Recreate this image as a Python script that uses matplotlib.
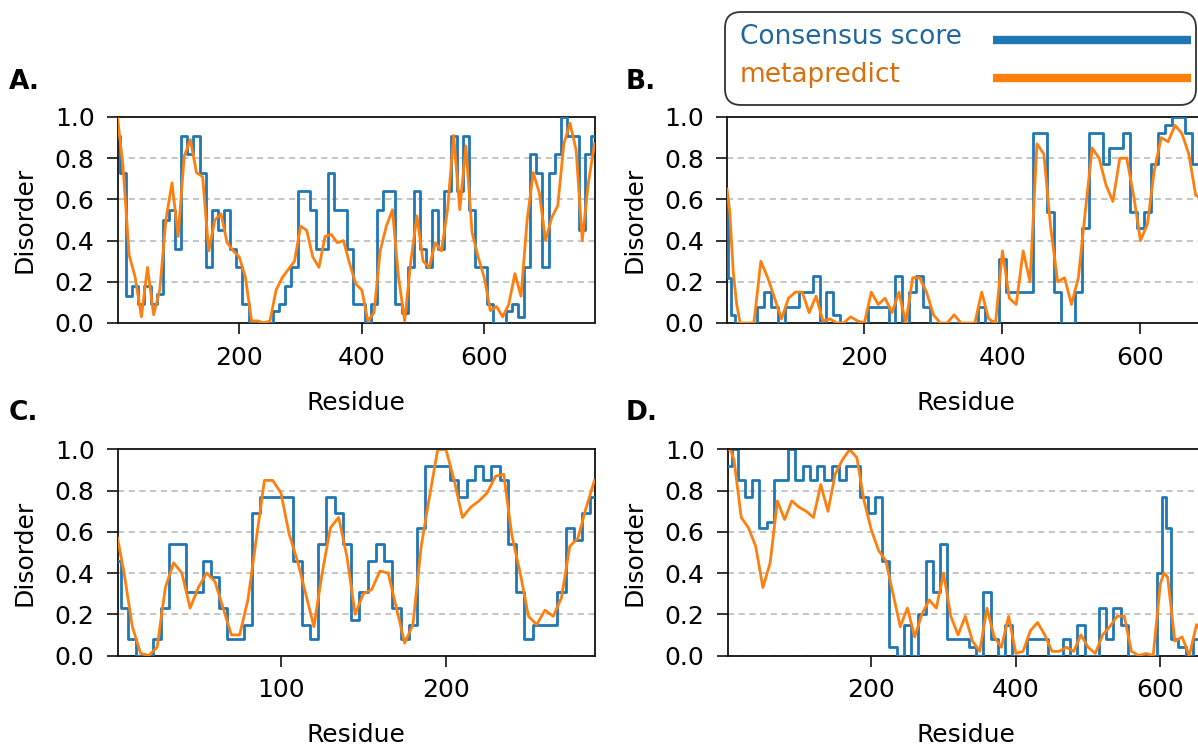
import numpy as np
import matplotlib
matplotlib.use("Agg")
import matplotlib.pyplot as plt
from matplotlib.patches import FancyBboxPatch
from matplotlib.lines import Line2D
from matplotlib.transforms import IdentityTransform

plt.rcParams['font.family'] = ['DejaVu Sans']

# ---------------- data ----------------
# Panel A
resA = [1, 10, 20, 30, 40, 50, 60, 70, 80, 90, 100, 110, 120, 130, 140, 150, 160, 170, 180, 190,
        200, 210, 220, 230, 240, 250, 260, 270, 280, 290, 300, 310, 320, 330, 340, 350, 360, 370, 380, 390,
        400, 410, 420, 430, 440, 450, 460, 470, 480, 490, 500, 510, 520, 530, 540, 550, 560, 570, 580, 590,
        600, 610, 620, 630, 640, 650, 660, 670, 680, 690, 700, 710, 720, 730, 740, 750, 760, 770, 780]
consA = [0.91, 0.73, 0.13, 0.18, 0.09, 0.18, 0.09, 0.14, 0.50, 0.55, 0.36, 0.91, 0.82, 0.91, 0.73, 0.27, 0.55, 0.45, 0.55, 0.36,
         0.27, 0.09, 0.00, 0.00, 0.00, 0.00, 0.06, 0.09, 0.18, 0.27, 0.64, 0.64, 0.55, 0.36, 0.36, 0.73, 0.55, 0.55, 0.36, 0.09,
         0.09, 0.00, 0.09, 0.55, 0.64, 0.64, 0.09, 0.05, 0.27, 0.64, 0.36, 0.27, 0.55, 0.36, 0.64, 0.91, 0.64, 0.91, 0.55, 0.27,
         0.27, 0.09, 0.00, 0.00, 0.06, 0.09, 0.03, 0.27, 0.82, 0.73, 0.27, 0.73, 0.82, 1.00, 0.91, 0.91, 0.45, 0.82, 0.91]
metaA = [1.00, 0.76, 0.33, 0.22, 0.03, 0.27, 0.04, 0.16, 0.50, 0.68, 0.42, 0.81, 0.89, 0.73, 0.71, 0.35, 0.50, 0.53, 0.39, 0.35,
         0.32, 0.22, 0.01, 0.01, 0.00, 0.01, 0.16, 0.22, 0.26, 0.30, 0.47, 0.45, 0.32, 0.27, 0.42, 0.43, 0.39, 0.40, 0.29, 0.19,
         0.16, 0.01, 0.05, 0.35, 0.47, 0.55, 0.22, 0.01, 0.30, 0.52, 0.30, 0.27, 0.39, 0.35, 0.55, 0.91, 0.55, 0.86, 0.44, 0.32,
         0.22, 0.06, 0.08, 0.03, 0.09, 0.24, 0.13, 0.50, 0.73, 0.63, 0.40, 0.51, 0.57, 0.87, 0.97, 0.84, 0.40, 0.68, 0.87]

# Panel B
resB = [1, 5, 10, 15, 20, 30, 40, 50, 60, 70, 80, 90, 100, 110, 120, 130, 140, 150, 160, 170,
        180, 190, 200, 210, 220, 230, 240, 250, 260, 270, 280, 290, 300, 310, 320, 330, 340, 350, 360, 370,
        380, 390, 400, 410, 420, 430, 440, 450, 460, 470, 480, 490, 500, 510, 520, 530, 540, 550, 560, 570,
        580, 590, 600, 610, 620, 630, 640, 650, 660, 670, 680, 690]
consB = [0.59, 0.22, 0.04, 0.00, 0.00, 0.00, 0.00, 0.08, 0.15, 0.08, 0.00, 0.08, 0.08, 0.15, 0.15, 0.23, 0.00, 0.15, 0.04, 0.00,
         0.00, 0.00, 0.00, 0.08, 0.08, 0.08, 0.00, 0.23, 0.00, 0.15, 0.23, 0.08, 0.00, 0.00, 0.00, 0.00, 0.00, 0.00, 0.00, 0.08,
         0.00, 0.00, 0.31, 0.15, 0.15, 0.15, 0.15, 0.92, 0.92, 0.54, 0.15, 0.00, 0.00, 0.15, 0.46, 0.92, 0.92, 0.77, 0.85, 0.85,
         0.92, 0.54, 0.46, 0.54, 0.77, 0.92, 0.96, 1.00, 1.00, 0.92, 0.77, 0.80]
metaB = [0.65, 0.54, 0.25, 0.09, 0.00, 0.00, 0.00, 0.30, 0.22, 0.12, 0.02, 0.12, 0.15, 0.15, 0.05, 0.13, 0.01, 0.02, 0.00, 0.00,
         0.03, 0.01, 0.00, 0.15, 0.09, 0.12, 0.05, 0.15, 0.00, 0.22, 0.22, 0.15, 0.04, 0.00, 0.00, 0.04, 0.00, 0.00, 0.00, 0.15,
         0.02, 0.00, 0.35, 0.12, 0.09, 0.35, 0.20, 0.87, 0.82, 0.46, 0.20, 0.22, 0.09, 0.22, 0.54, 0.85, 0.80, 0.67, 0.59, 0.80,
         0.80, 0.62, 0.40, 0.48, 0.74, 0.90, 0.88, 0.96, 0.92, 0.82, 0.62, 0.60]

# Panel C
resC = [1, 5, 10, 15, 20, 25, 30, 35, 40, 45, 50, 55, 60, 65, 70, 75, 80, 85, 90, 95,
        100, 105, 110, 115, 120, 125, 130, 135, 140, 145, 150, 155, 160, 165, 170, 175, 180, 185, 190, 195,
        200, 205, 210, 215, 220, 225, 230, 235, 240, 245, 250, 255, 260, 265, 270, 275, 280, 285, 290]
consC = [0.46, 0.23, 0.08, 0.00, 0.00, 0.08, 0.23, 0.54, 0.54, 0.31, 0.31, 0.46, 0.38, 0.23, 0.08, 0.08, 0.15, 0.69, 0.77, 0.77,
         0.77, 0.77, 0.46, 0.15, 0.08, 0.54, 0.77, 0.69, 0.54, 0.17, 0.31, 0.46, 0.54, 0.46, 0.23, 0.08, 0.15, 0.62, 0.92, 0.92,
         0.92, 0.85, 0.77, 0.85, 0.92, 0.85, 0.92, 0.85, 0.54, 0.31, 0.08, 0.15, 0.15, 0.15, 0.31, 0.62, 0.56, 0.69, 0.77]
metaC = [0.57, 0.40, 0.14, 0.01, 0.00, 0.04, 0.33, 0.45, 0.40, 0.23, 0.33, 0.40, 0.36, 0.23, 0.10, 0.10, 0.27, 0.56, 0.85, 0.85,
         0.79, 0.59, 0.46, 0.30, 0.14, 0.40, 0.62, 0.67, 0.48, 0.20, 0.30, 0.32, 0.41, 0.40, 0.23, 0.06, 0.15, 0.53, 0.77, 1.00,
         1.00, 0.85, 0.67, 0.72, 0.75, 0.79, 0.87, 0.88, 0.58, 0.40, 0.19, 0.15, 0.22, 0.19, 0.28, 0.53, 0.57, 0.72, 0.85]

# Panel D
resD = [1, 5, 10, 20, 30, 40, 50, 60, 70, 80, 90, 100, 110, 120, 130, 140, 150, 160, 170, 180,
        190, 200, 210, 220, 230, 240, 250, 260, 270, 280, 290, 300, 310, 320, 330, 340, 350, 360, 370, 380,
        390, 400, 410, 420, 430, 440, 450, 460, 470, 480, 490, 500, 510, 520, 530, 540, 550, 560, 570, 580,
        590, 600, 605, 610, 620, 630, 640, 650, 660]
consD = [0.92, 0.92, 1.00, 0.85, 0.77, 0.85, 0.62, 0.65, 0.85, 0.85, 1.00, 0.85, 0.92, 0.85, 0.92, 0.85, 0.92, 0.85, 0.92, 0.92,
         0.77, 0.69, 0.77, 0.46, 0.04, 0.00, 0.15, 0.00, 0.20, 0.46, 0.31, 0.54, 0.08, 0.08, 0.08, 0.04, 0.00, 0.31, 0.08, 0.00,
         0.15, 0.00, 0.00, 0.08, 0.08, 0.08, 0.00, 0.00, 0.08, 0.00, 0.15, 0.00, 0.00, 0.23, 0.08, 0.23, 0.15, 0.00, 0.00, 0.00,
         0.00, 0.40, 0.77, 0.62, 0.08, 0.04, 0.00, 0.08, 0.08]
metaD = [1.00, 1.00, 0.95, 0.67, 0.62, 0.53, 0.33, 0.45, 0.75, 0.66, 0.75, 0.72, 0.70, 0.67, 0.83, 0.70, 0.88, 0.95, 1.00, 0.96,
         0.75, 0.61, 0.51, 0.46, 0.30, 0.14, 0.23, 0.09, 0.20, 0.27, 0.23, 0.40, 0.19, 0.10, 0.19, 0.07, 0.02, 0.23, 0.09, 0.04,
         0.19, 0.01, 0.02, 0.12, 0.16, 0.10, 0.02, 0.02, 0.04, 0.02, 0.10, 0.04, 0.01, 0.10, 0.14, 0.19, 0.19, 0.02, 0.00, 0.01,
         0.00, 0.35, 0.40, 0.38, 0.07, 0.09, 0.00, 0.15, 0.10]

yticks = [0.0, 0.2, 0.4, 0.6, 0.8, 1.0]
ytick_labels = ["0.0", "0.2", "0.4", "0.6", "0.8", "1.0"]
legend_labels = ["Consensus score", "metapredict"]

# ---------------- drawing ----------------
W, H = 1198, 745
fig = plt.figure(figsize=(W / 100, H / 100), dpi=100)
BLUE = '#1f77b4'
ORANGE = '#ff7f0e'
FS = 18


def add_panel(rect_px, res, cons, meta, xmax, xticks, label, label_xy):
    l, t, w, h = rect_px
    ax = fig.add_axes([l / W, 1 - (t + h) / H, w / W, h / H])
    ax.plot(res, cons, color=BLUE, lw=2, drawstyle='steps-mid', zorder=3)
    ax.plot(res, meta, color=ORANGE, lw=2, zorder=4)
    ax.set_xlim(1, xmax)
    ax.set_ylim(0, 1)
    ax.set_yticks(yticks)
    ax.set_yticklabels(ytick_labels)
    ax.set_xticks(xticks)
    ax.set_xticklabels([str(v) for v in xticks])
    ax.yaxis.grid(True, linestyle=(0, (4, 3)), color='#b5b5b5', lw=1.1)
    ax.set_axisbelow(True)
    ax.tick_params(axis='both', direction='out', length=8, width=1.2, labelsize=FS, pad=8.5, color='#111111')
    for s in ax.spines.values():
        s.set_linewidth(1.3)
        s.set_color('#111111')
    ax.set_ylabel('Disorder', fontsize=FS, labelpad=13)
    ax.set_xlabel('Residue', fontsize=FS, labelpad=15)
    fig.text(label_xy[0] / W, 1 - label_xy[1] / H, label, fontsize=19, fontweight='bold',
             ha='left', va='center')
    return ax


axw, axh = 477, 206
add_panel((117.5, 117, axw, axh), resA, consA, metaA, 780, [200, 400, 600], 'A.', (9, 82))
add_panel((727, 117, axw, axh), resB, consB, metaB, 692, [200, 400, 600], 'B.', (626, 82))
add_panel((117.5, 449.5, axw, axh), resC, consC, metaC, 290, [100, 200], 'C.', (9, 413))
add_panel((727.5, 449.5, axw, axh), resD, consD, metaD, 661, [200, 400, 600], 'D.', (626, 413))

# Legend box drawn in pixel coordinates
box = FancyBboxPatch((725, H - 105), 471, 93, boxstyle='round,pad=0,rounding_size=16',
                     transform=IdentityTransform(), facecolor='white', edgecolor='#333333',
                     lw=1.3, zorder=10)
fig.patches.append(box)
for lab, col, tcol, yc in [(legend_labels[0], BLUE, '#22679b', 37), (legend_labels[1], ORANGE, '#d9700f', 75)]:
    fig.text(740 / W, 1 - yc / H, lab, fontsize=19, color=tcol, ha='left', va='center', zorder=11)
    ln = Line2D([993 / W, 1191 / W], [1 - (yc + 3) / H, 1 - (yc + 3) / H], transform=fig.transFigure,
                color=col, lw=6, solid_capstyle='butt', zorder=11)
    fig.lines.append(ln)

fig.savefig('out.png', dpi=100)
